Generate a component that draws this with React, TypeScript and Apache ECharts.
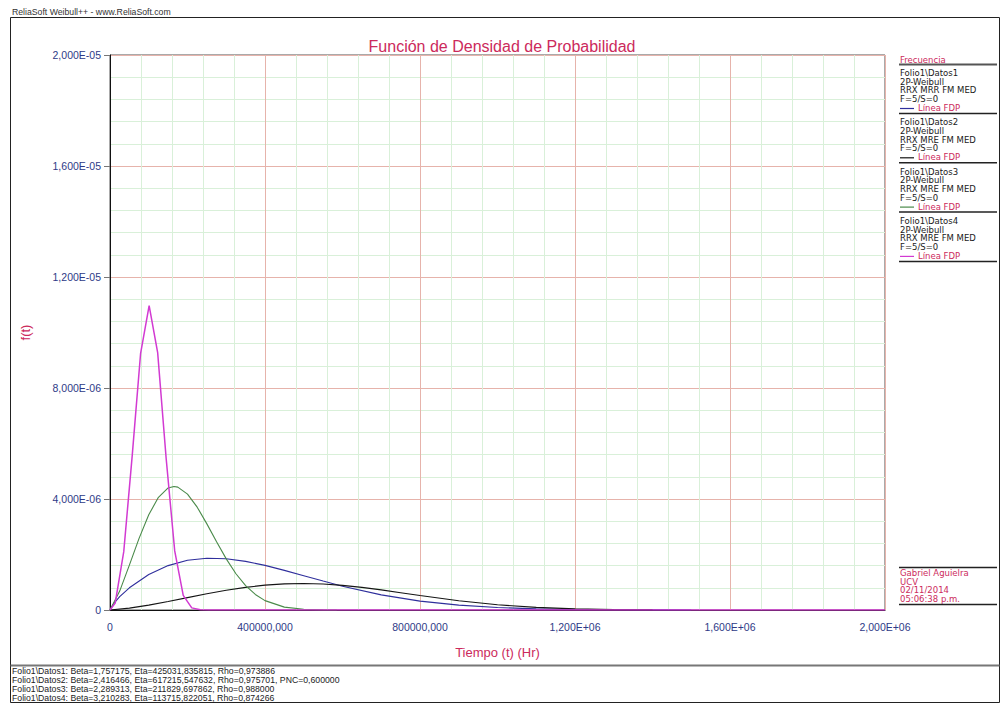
import { useEffect, useRef } from "react";
import * as echarts from "echarts";

// Axis tick labels (formatted the way Weibull++ prints them)
const xTickLabels = ["0", "400000,000", "800000,000", "1,200E+06", "1,600E+06", "2,000E+06"];
const yTickLabels = ["0", "4,000E-06", "8,000E-06", "1,200E-05", "1,600E-05", "2,000E-05"];
const xStep = 400000;
const yStep = 4e-6;

// Folio1\Datos1 – pdf curve
const datos1Time = [0, 10000, 25000, 50000, 100000, 150000, 200000, 250000, 300000, 350000, 400000, 450000, 500000, 550000, 600000, 700000, 800000, 900000, 1000000, 1100000, 1200000, 1300000, 1400000, 1500000];
const datos1Pdf = [0, 2.42e-7, 4.81e-7, 7.99e-7, 1.278e-6, 1.6e-6, 1.791e-6, 1.866e-6, 1.847e-6, 1.753e-6, 1.607e-6, 1.429e-6, 1.236e-6, 1.042e-6, 8.58e-7, 5.46e-7, 3.2e-7, 1.74e-7, 8.8e-8, 4.2e-8, 1.9e-8, 8e-9, 3e-9, 1e-9];

// Folio1\Datos2 – pdf curve
const datos2Time = [0, 50000, 100000, 150000, 200000, 250000, 300000, 350000, 400000, 450000, 500000, 550000, 600000, 650000, 700000, 750000, 800000, 900000, 1000000, 1100000, 1200000, 1300000, 1400000];
const datos2Pdf = [0, 6.7e-8, 1.76e-7, 3.07e-7, 4.46e-7, 5.84e-7, 7.1e-7, 8.16e-7, 8.95e-7, 9.42e-7, 9.56e-7, 9.36e-7, 8.87e-7, 8.14e-7, 7.24e-7, 6.24e-7, 5.22e-7, 3.33e-7, 1.88e-7, 9.4e-8, 4.1e-8, 1.6e-8, 5e-9];

// Folio1\Datos3 – pdf curve
const datos3Time = [0, 25000, 50000, 75000, 100000, 125000, 150000, 165000, 175000, 200000, 225000, 250000, 275000, 300000, 325000, 350000, 375000, 400000, 450000, 500000, 550000, 585000];
const datos3Pdf = [0, 6.82e-7, 1.619e-6, 2.582e-6, 3.432e-6, 4.06e-6, 4.399e-6, 4.453e-6, 4.429e-6, 4.176e-6, 3.706e-6, 3.104e-6, 2.458e-6, 1.842e-6, 1.307e-6, 8.79e-7, 5.6e-7, 3.38e-7, 1.04e-7, 2.6e-8, 5e-9, 0];

// Folio1\Datos4 – pdf curve
const datos4Time = [0, 13500, 35500, 57500, 79000, 101000, 123000, 145000, 167000, 189000, 211000, 233000, 255000, 2000000];
const datos4Pdf = [0, 2.54e-7, 2.103e-6, 5.591e-6, 9.251e-6, 1.0967e-5, 9.276e-6, 5.45e-6, 2.129e-6, 5.25e-7, 7.7e-8, 6e-9, 0, 0];

const seriesNames = ["Folio1\\Datos1", "Folio1\\Datos2", "Folio1\\Datos3", "Folio1\\Datos4"];
const seriesColors = ["#2f2f9c", "#151515", "#4a8a4a", "#d23ad2"];
const seriesMethods = ["RRX MRR FM MED", "RRX MRE FM MED", "RRX MRE FM MED", "RRX MRE FM MED"];
const seriesTimes = [datos1Time, datos2Time, datos3Time, datos4Time];
const seriesPdfs = [datos1Pdf, datos2Pdf, datos3Pdf, datos4Pdf];

const parameterLines = [
  "Folio1\\Datos1: Beta=1,757175, Eta=425031,835815, Rho=0,973886",
  "Folio1\\Datos2: Beta=2,416466, Eta=617215,547632, Rho=0,975701, PNC=0,600000",
  "Folio1\\Datos3: Beta=2,289313, Eta=211829,697862, Rho=0,988000",
  "Folio1\\Datos4: Beta=3,210283, Eta=113715,822051, Rho=0,874266",
];
const authorLines = ["Gabriel Aguielra", "UCV", "02/11/2014", "05:06:38 p.m."];

const CRIMSON = "#cc2a5c";
const NAVY = "#2e3a87";
const FONT = "'Liberation Sans', Arial, sans-serif";
const PANEL_FONT = "'DejaVu Sans', Verdana, sans-serif";
const PANEL_SIZE = 8.5;

function buildGraphics() {
  const g: any[] = [];
  // page frame
  g.push({
    type: "rect",
    shape: { x: 10.5, y: 17.5, width: 989, height: 685 },
    style: { fill: "none", stroke: "#222", lineWidth: 1 },
    silent: true,
  });
  g.push({
    type: "text",
    x: 12,
    y: 16,
    style: { text: "ReliaSoft Weibull++ - www.ReliaSoft.com", fontSize: 8.7, fontFamily: FONT, fill: "#333", textVerticalAlign: "bottom" },
  });
  // separator above the parameter block
  g.push({
    type: "line",
    shape: { x1: 10.5, y1: 665.5, x2: 999.5, y2: 665.5 },
    style: { stroke: "#777", lineWidth: 2 },
  });
  parameterLines.forEach((t, i) => {
    g.push({
      type: "text",
      x: 12,
      y: 671 + i * 9,
      style: { text: t, fontSize: 8.7, fontFamily: FONT, fill: "#222", textVerticalAlign: "middle" },
    });
  });

  // legend panel
  g.push({
    type: "text",
    x: 900,
    y: 59.5,
    style: { text: "Frecuencia", fontSize: PANEL_SIZE, fontFamily: PANEL_FONT, fill: CRIMSON, textVerticalAlign: "middle" },
  });
  g.push({
    type: "line",
    shape: { x1: 899, y1: 64.5, x2: 997, y2: 64.5 },
    style: { stroke: "#555", lineWidth: 2 },
  });
  seriesNames.forEach((name, i) => {
    const y0 = 73 + i * 49.3;
    [name, "2P-Weibull", seriesMethods[i], "F=5/S=0"].forEach((t, k) => {
      g.push({
        type: "text",
        x: 900,
        y: y0 + k * 8.7,
        style: { text: t, fontSize: PANEL_SIZE, fontFamily: PANEL_FONT, fill: "#1a1a1a", textVerticalAlign: "middle" },
      });
    });
    g.push({
      type: "line",
      shape: { x1: 900, y1: y0 + 35.5, x2: 914, y2: y0 + 35.5 },
      style: { stroke: seriesColors[i], lineWidth: 1.2 },
    });
    g.push({
      type: "text",
      x: 918,
      y: y0 + 35,
      style: { text: "Línea FDP", fontSize: PANEL_SIZE, fontFamily: PANEL_FONT, fill: CRIMSON, textVerticalAlign: "middle" },
    });
    g.push({
      type: "line",
      shape: { x1: 899, y1: y0 + 40.5, x2: 997, y2: y0 + 40.5 },
      style: { stroke: "#222", lineWidth: 1.5 },
    });
  });

  // author / date block
  g.push({
    type: "line",
    shape: { x1: 899, y1: 567.5, x2: 997, y2: 567.5 },
    style: { stroke: "#222", lineWidth: 1.5 },
  });
  authorLines.forEach((t, i) => {
    g.push({
      type: "text",
      x: 900,
      y: 573 + i * 8.7,
      style: { text: t, fontSize: PANEL_SIZE, fontFamily: PANEL_FONT, fill: CRIMSON, textVerticalAlign: "middle" },
    });
  });
  g.push({
    type: "line",
    shape: { x1: 899, y1: 604.5, x2: 997, y2: 604.5 },
    style: { stroke: "#222", lineWidth: 1.5 },
  });
  return g;
}

export default function App() {
  const ref = useRef<HTMLDivElement>(null);

  useEffect(() => {
    if (!ref.current) return;
    const chart = echarts.init(ref.current, undefined, { renderer: "svg" });

    const series = seriesNames.map((name, i) => ({
      name,
      type: "line",
      showSymbol: false,
      symbol: "none",
      smooth: false,
      data: seriesTimes[i].map((t, j) => [t, seriesPdfs[i][j]]),
      lineStyle: { color: seriesColors[i], width: i === 3 ? 1.5 : 1.1 },
      itemStyle: { color: seriesColors[i] },
      z: 3 + i,
    }));

    chart.setOption({
      animation: false,
      backgroundColor: "#fff",
      title: {
        text: "Función de Densidad de Probabilidad",
        left: 497,
        top: 33,
        textAlign: "center",
        textStyle: { fontSize: 16, fontWeight: "normal", color: CRIMSON, fontFamily: FONT },
      },
      grid: {
        left: 110,
        top: 55,
        right: 118,
        bottom: 94,
        show: true,
        borderColor: "#555",
        borderWidth: 1,
        backgroundColor: "#fff",
      },
      xAxis: {
        type: "value",
        min: 0,
        max: 2000000,
        interval: xStep,
        name: "Tiempo (t) (Hr)",
        nameLocation: "middle",
        nameGap: 36,
        nameTextStyle: { color: CRIMSON, fontSize: 13, fontFamily: FONT },
        axisLine: { show: true, lineStyle: { color: "#111", width: 1 } },
        axisTick: { show: false },
        axisLabel: {
          color: NAVY,
          fontSize: 10.5,
          fontFamily: FONT,
          margin: 11,
          formatter: (v: number) => xTickLabels[Math.round(v / xStep)] ?? "",
        },
        splitLine: { show: true, lineStyle: { color: "#e6b3ab", width: 1 } },
        minorTick: { show: false, splitNumber: 5 },
        minorSplitLine: { show: true, lineStyle: { color: "#d9f0d9", width: 1 } },
      },
      yAxis: {
        type: "value",
        min: 0,
        max: 2e-5,
        interval: yStep,
        name: "f(t)",
        nameLocation: "middle",
        nameRotate: 90,
        nameGap: 78,
        nameTextStyle: { color: CRIMSON, fontSize: 13, fontFamily: FONT },
        axisLine: { show: true, lineStyle: { color: "#111", width: 1 } },
        axisTick: { show: true, length: 6, lineStyle: { color: "#777" } },
        axisLabel: {
          color: NAVY,
          fontSize: 10.5,
          fontFamily: FONT,
          margin: 9,
          formatter: (v: number) => yTickLabels[Math.round(v / yStep)] ?? "",
        },
        splitLine: { show: true, lineStyle: { color: "#e6b3ab", width: 1 } },
        minorTick: { show: false, splitNumber: 5 },
        minorSplitLine: { show: true, lineStyle: { color: "#d9f0d9", width: 1 } },
      },
      graphic: buildGraphics(),
      series,
    });

    return () => chart.dispose();
  }, []);

  return (
    <div
      ref={ref}
      style={{ position: "absolute", left: 0, top: 0, width: 1003, height: 704, background: "#fff" }}
    />
  );
}
